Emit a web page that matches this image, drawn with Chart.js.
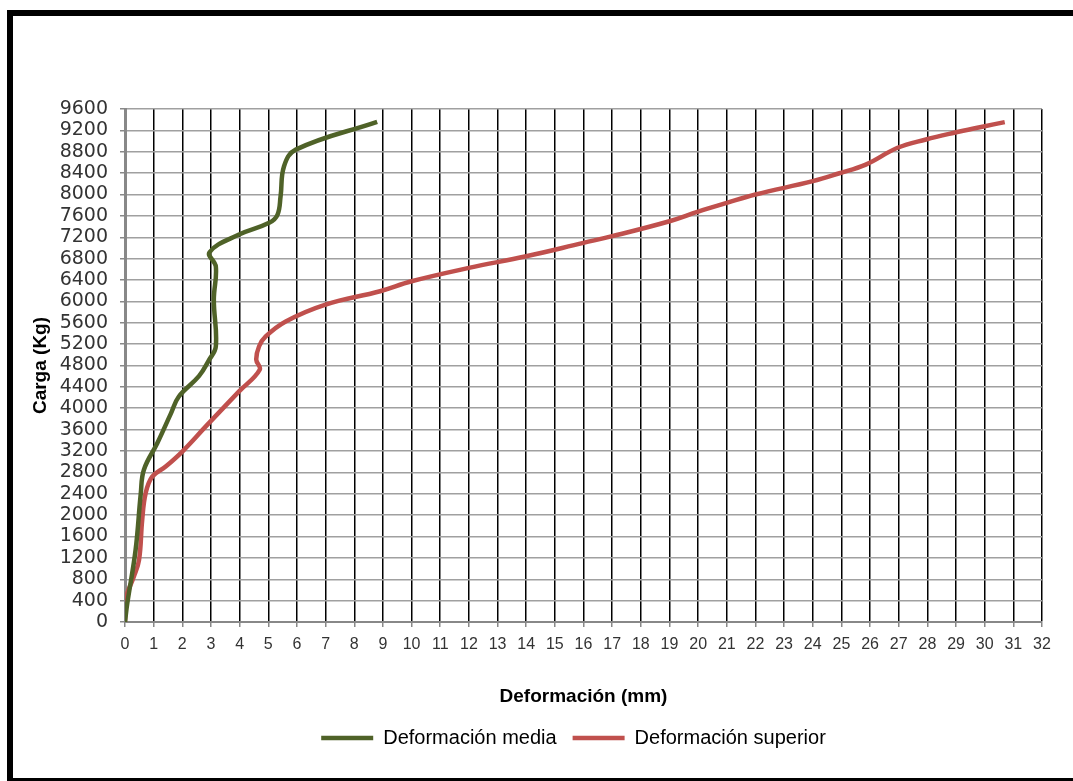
<!DOCTYPE html>
<html>
<head>
<meta charset="utf-8">
<script src="https://cdn.jsdelivr.net/npm/chart.js@4.4.1/dist/chart.umd.min.js"></script>
<style>
  html, body { margin: 0; padding: 0; background: #fff; overflow: hidden; }
  #frame { position: absolute; left: 7px; top: 10px; width: 1080px; height: 762px;
           border-left: 6px solid #000; border-top: 6px solid #000; border-bottom: 3px solid #000; }
  #chartJSContainer { position: absolute; left: 0; top: 0; }
</style>
</head>
<body>
<div id="frame"></div>
<canvas id="chartJSContainer" width="1073" height="781"></canvas>
<script>
// Deformación media (mm) vs carga (Kg)
const mediaDef  = [0, 0.08, 0.37, 0.55, 0.66, 1.13, 1.6, 1.88, 2.58, 2.93, 3.17, 3.1, 3.17, 2.95, 3.98, 5.03, 5.32, 5.43, 5.55, 5.96, 8.8];
const mediaLoad = [0, 350, 1350, 2400, 2850, 3350, 3900, 4220, 4600, 4900, 5160, 6030, 6650, 6920, 7250, 7470, 7620, 7970, 8530, 8840, 9360];

// Deformación superior (mm) vs carga (Kg)
const superiorDef  = [0, 0.03, 0.31, 0.49, 0.6, 0.72, 0.95, 1.42, 2.0, 2.82, 3.98, 4.7, 4.58, 4.68, 4.91, 5.61, 7.0, 8.9, 10.0, 12.0, 14.0, 16.0, 17.0, 19.0, 20.0, 21.0, 22.0, 24.0, 24.9, 25.85, 26.96, 27.95, 28.94, 29.92, 30.7];
const superiorLoad = [0, 440, 850, 1160, 1910, 2410, 2720, 2910, 3190, 3660, 4315, 4720, 4910, 5160, 5345, 5625, 5940, 6190, 6376, 6626, 6844, 7095, 7220, 7500, 7680, 7844, 8000, 8250, 8393, 8560, 8875, 9030, 9156, 9268, 9355];

const xMin = 0, xMax = 32, xStep = 1;
const yMin = 0, yMax = 9600, yStep = 400;

const seriesNames = ['Deformación media', 'Deformación superior'];
const seriesColors = ['#4f6228', '#c0504d'];

function toPoints(xs, ys) {
    return xs.map((x, i) => ({ x: x, y: ys[i] }));
}

// legend sits under the plot area, not the whole canvas
const legendShift = {
    id: 'legendShift',
    afterLayout(chart) {
        chart.legend.left += 40;
        chart.legend.right += 40;
    }
};

let options = {
    type: 'scatter',
    data: {
        datasets: [{
            label: seriesNames[0],
            data: toPoints(mediaDef, mediaLoad),
            showLine: true,
            borderColor: seriesColors[0],
            backgroundColor: seriesColors[0],
            borderWidth: 4.5,
            pointRadius: 0,
            pointStyle: 'line',
            tension: 0.4,
        }, {
            label: seriesNames[1],
            data: toPoints(superiorDef, superiorLoad),
            showLine: true,
            borderColor: seriesColors[1],
            backgroundColor: seriesColors[1],
            borderWidth: 4.5,
            pointRadius: 0,
            pointStyle: 'line',
            tension: 0.4,
        }]
    },
    options: {
        responsive: false,
        animation: false,
        layout: {
            padding: { left: 25, top: 109, right: 31, bottom: 23 }
        },
        scales: {
            x: {
                type: 'linear',
                min: xMin,
                max: xMax,
                ticks: {
                    stepSize: xStep,
                    autoSkip: false,
                    maxRotation: 0,
                    padding: 8,
                    color: '#333',
                    font: { family: 'Liberation Sans', size: 16 }
                },
                grid: { color: '#000', lineWidth: 1.5, tickColor: '#888', tickLength: 5 },
                border: { color: '#888', width: 2 },
                title: {
                    display: true,
                    text: 'Deformación (mm)',
                    color: '#000',
                    font: { family: 'Liberation Sans', size: 19, weight: 'bold' }
                },
                afterFit: (scale) => { scale.height = 90; }
            },
            y: {
                min: yMin,
                max: yMax,
                ticks: {
                    stepSize: yStep,
                    autoSkip: false,
                    padding: 12,
                    color: '#333',
                    format: { useGrouping: false },
                    font: { family: 'DejaVu Sans', size: 19 }
                },
                grid: { color: '#a0a0a0', lineWidth: 1.5, tickColor: '#888', tickLength: 5 },
                border: { color: '#888', width: 3 },
                title: {
                    display: true,
                    text: 'Carga (Kg)',
                    color: '#000',
                    font: { family: 'Liberation Sans', size: 19, weight: 'bold' }
                },
                afterFit: (scale) => { scale.width = 100; }
            }
        },
        plugins: {
            legend: {
                position: 'bottom',
                labels: {
                    usePointStyle: true,
                    pointStyleWidth: 52,
                    boxHeight: 4,
                    padding: 16,
                    color: '#000',
                    font: { family: 'Liberation Sans', size: 20 }
                }
            },
            tooltip: { enabled: false }
        }
    },
    plugins: [legendShift]
}

let ctx = document.getElementById('chartJSContainer').getContext('2d');
window.chart = new Chart(ctx, options);
</script>
</body>
</html>
